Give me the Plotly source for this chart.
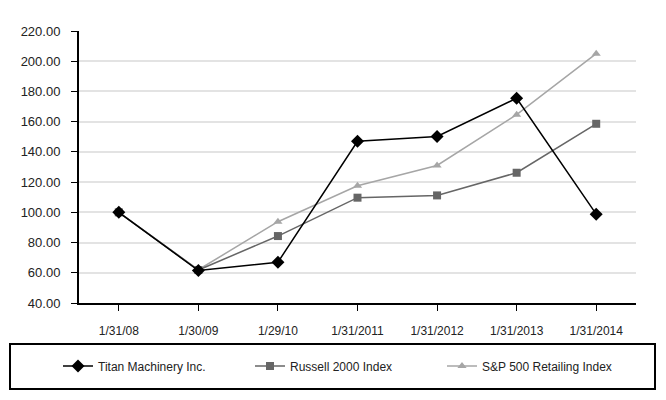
import plotly.graph_objects as go

dates = ["1/31/08", "1/30/09", "1/29/10", "1/31/2011", "1/31/2012", "1/31/2013", "1/31/2014"]
titan = [100.0, 61.5, 67.0, 147.0, 150.2, 175.5, 98.8]
russell = [100.0, 61.8, 84.3, 109.7, 111.2, 126.2, 158.6]
sp_retail = [100.0, 62.0, 93.8, 117.6, 131.0, 164.6, 205.0]
y_ticks = [40, 60, 80, 100, 120, 140, 160, 180, 200, 220]
y_labels = [f"{v:.2f}" for v in y_ticks]

fig = go.Figure()
fig.add_trace(go.Scatter(x=dates, y=sp_retail, name="S&P 500 Retailing Index", mode="lines+markers",
                         line=dict(color="#a6a6a6", width=1.5),
                         marker=dict(symbol="triangle-up", size=8, color="#a6a6a6")))
fig.add_trace(go.Scatter(x=dates, y=russell, name="Russell 2000 Index", mode="lines+markers",
                         line=dict(color="#666666", width=1.5),
                         marker=dict(symbol="square", size=8, color="#666666")))
fig.add_trace(go.Scatter(x=dates, y=titan, name="Titan Machinery Inc.", mode="lines+markers",
                         line=dict(color="#000000", width=1.5),
                         marker=dict(symbol="diamond", size=10, color="#000000")))

fig.update_layout(
    width=666, height=400,
    margin=dict(l=79, r=30, t=31, b=97, autoexpand=False),
    paper_bgcolor="white", plot_bgcolor="white",
    font=dict(family="Liberation Sans, Arial, sans-serif", color="#222222"),
    showlegend=True,
    legend=dict(orientation="h", x=(58 - 79) / 557, xanchor="left",
                y=(303 - 366) / 272, yanchor="middle",
                traceorder="reversed", font=dict(size=12), entrywidth=147,
                bgcolor="rgba(0,0,0,0)"),
)
fig.update_xaxes(type="category", showline=True, linecolor="black", linewidth=2,
                 ticks="outside", ticklen=6, tickcolor="black", tickfont=dict(size=12),
                 ticklabelstandoff=10, showgrid=False, range=[-0.5, 6.5])
fig.update_yaxes(range=[40, 220], tickvals=y_ticks, ticktext=y_labels, showline=True,
                 linecolor="black", linewidth=2, ticks="outside", ticklen=6, tickcolor="black",
                 tickfont=dict(size=13), ticklabelstandoff=8, showgrid=True,
                 gridcolor="#e3e3e3", gridwidth=1.5, zeroline=False)

fig.add_shape(type="rect", xref="paper", yref="paper",
              x0=(10 - 79) / 557, x1=(655 - 79) / 557, y0=(303 - 389) / 272, y1=(303 - 344) / 272,
              line=dict(color="black", width=2), fillcolor="rgba(0,0,0,0)")

fig.write_html("out.html", config={"displayModeBar": False},
               post_script="document.body.style.margin='0px';")
